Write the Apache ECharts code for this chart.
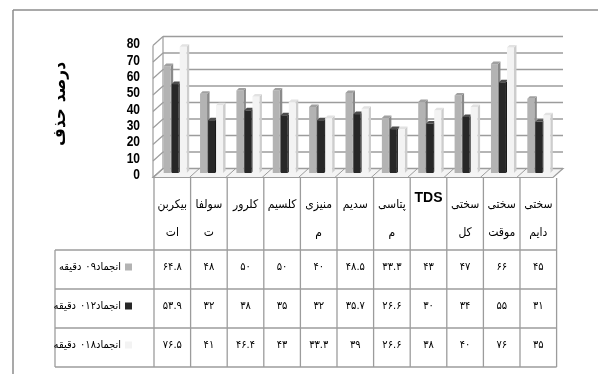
<!DOCTYPE html>
<html>
<head>
<meta charset="utf-8">
<script src="https://cdn.jsdelivr.net/npm/echarts@6/dist/echarts.min.js"></script>
<style>
  html, body { margin: 0; padding: 0; background: #fff; }
  #chart { width: 598px; height: 374px; }
</style>
</head>
<body>
<div id="chart"></div>
<script>
// Removal percentage per parameter after three freezing durations
const categories = ['بیکربنات', 'سولفات', 'کلرور', 'کلسیم', 'منیزیم', 'سدیم', 'پتاسیم', 'TDS', 'سختی کل', 'سختی موقت', 'سختی دایم'];
const headerLabels = ['بیکربن\nات', 'سولفا\nت', 'کلرور', 'کلسیم', 'منیزی\nم', 'سدیم', 'پتاسی\nم', 'TDS', 'سختی\nکل', 'سختی\nموقت', 'سختی\nدایم'];
// row captions, drawn left to right as: word, number, word
const rowWordLeft = 'دقیقه';
const rowWordRight = 'انجماد';
const rowNumbers = ['۰۹', '۰۱۲', '۰۱۸'];
const values90 = [64.8, 48, 50, 50, 40, 48.5, 33.3, 43, 47, 66, 45];
const values120 = [53.9, 32, 38, 35, 32, 35.7, 26.6, 30, 34, 55, 31];
const values180 = [76.5, 41, 46.4, 43, 33.3, 39, 26.6, 38, 40, 76, 35];
const yTicks = [0, 10, 20, 30, 40, 50, 60, 70, 80];
const yTitleWords = ['درصد', 'حذف'];

const seriesValues = [values90, values120, values180];

// bar styling: front / side / top faces
const FACE = ['#b3b3b3', '#272727', '#f3f3f3'];
const SIDE = ['#8a8a8a', '#0f0f0f', '#cdcdcd'];
const TOP = ['#a0a0a0', '#4d4d4d', '#e2e2e2'];
const BAR_OFF = [-12.5, -4.5, 3.5];
const BAR_W = 7;
const BAR_D = 2.5;
// wall depth vector (back = base + D, front = base - D)
const WDX = 5, WDY = -4.5;
const LINE = '#9c9c9c';
const FA_FONT = '11px "DejaVu Sans Condensed", "DejaVu Sans", sans-serif';

const faDigits = '۰۱۲۳۴۵۶۷۸۹';
const toFa = n => String(n).replace(/\d/g, d => faDigits[d]);

const measureCtx = document.createElement('canvas').getContext('2d');
function textWidth(str, font) { measureCtx.font = font; return measureCtx.measureText(str).width; }

function txt(text, x, y, font, align, extra) {
  return Object.assign({ type: 'text', silent: true,
    style: { text, x, y, font, fill: '#000', align, textAlign: align, verticalAlign: 'middle', textVerticalAlign: 'middle' } }, extra || {});
}

function barRenderer(s) {
  return function (params, api) {
    const i = api.value(0), v = api.value(1);
    const base = api.coord([i, 0]);
    const top = api.coord([i, v]);
    const x0 = base[0] + BAR_OFF[s];
    const x1 = x0 + BAR_W;
    const yb = base[1], yt = top[1];
    return {
      type: 'group',
      children: [
        { type: 'polygon', shape: { points: [[x1, yb], [x1 + BAR_D, yb - BAR_D], [x1 + BAR_D, yt - BAR_D], [x1, yt]] },
          style: { fill: SIDE[s] } },
        { type: 'rect', shape: { x: x0, y: yt, width: BAR_W, height: yb - yt },
          style: { fill: FACE[s] } },
        { type: 'polygon', shape: { points: [[x0, yt], [x1, yt], [x1 + BAR_D, yt - BAR_D], [x0 + BAR_D, yt - BAR_D]] },
          style: { fill: TOP[s] } }
      ]
    };
  };
}

function wallRenderer(params, api) {
  const cs = params.coordSys;
  const L = cs.x, R = cs.x + cs.width;
  const t = api.value(1);
  const y = api.coord([0, t])[1];
  const children = [
    { type: 'line', shape: { x1: L + WDX, y1: y + WDY, x2: R + WDX, y2: y + WDY }, style: { stroke: LINE, lineWidth: 1.4 } },
    { type: 'line', shape: { x1: L - WDX, y1: y - WDY, x2: L + WDX, y2: y + WDY }, style: { stroke: LINE, lineWidth: 1.2 } }
  ];
  if (params.dataIndex === 0) {
    const yTop = api.coord([0, yTicks[yTicks.length - 1]])[1];
    children.unshift({ type: 'polygon',
      shape: { points: [[L - WDX, y - WDY], [R - WDX, y - WDY], [R + WDX, y + WDY], [L + WDX, y + WDY]] },
      style: { fill: '#f4f4f4', stroke: LINE, lineWidth: 1.2 } });
    children.push({ type: 'line', shape: { x1: L - WDX, y1: yTop - WDY, x2: L - WDX, y2: y - WDY }, style: { stroke: LINE, lineWidth: 1.2 } });
    children.push({ type: 'line', shape: { x1: L + WDX, y1: yTop + WDY, x2: L + WDX, y2: y + WDY }, style: { stroke: LINE, lineWidth: 1.2 } });
    const band = cs.width / categories.length;
    for (let k = 1; k < categories.length; k++) {
      const x = L + k * band;
      children.push({ type: 'line', shape: { x1: x - WDX, y1: y - WDY, x2: x + WDX, y2: y + WDY }, style: { stroke: LINE, lineWidth: 1 } });
    }
  }
  return { type: 'group', children };
}

// data table under the plot
const TABLE_X0 = 154, COL_W = 36.6, HEAD_TOP = 178, ROW_TOPS = [250, 289, 328], ROW_H = 39, LEG_X0 = 55;
const TABLE_BOTTOM = ROW_TOPS[ROW_TOPS.length - 1] + ROW_H;
const TABLE_X1 = TABLE_X0 + COL_W * categories.length;
const graphics = [];
const tl = (x1, y1, x2, y2) => graphics.push({ type: 'line', silent: true,
  shape: { x1, y1, x2, y2 }, style: { stroke: LINE, lineWidth: 1.3 } });

// outer frame
graphics.push({ type: 'line', silent: true, shape: { x1: 13, y1: 10, x2: 13, y2: 374 }, style: { stroke: '#8c8c8c', lineWidth: 1.5 } });
graphics.push({ type: 'line', silent: true, shape: { x1: 13, y1: 10, x2: 598, y2: 10 }, style: { stroke: '#8c8c8c', lineWidth: 1.5 } });

for (let k = 0; k <= categories.length; k++) {
  const x = TABLE_X0 + k * COL_W;
  tl(x, HEAD_TOP, x, TABLE_BOTTOM);
}
ROW_TOPS.concat([TABLE_BOTTOM]).forEach(y => tl(LEG_X0, y, TABLE_X1, y));
tl(LEG_X0, ROW_TOPS[0], LEG_X0, TABLE_BOTTOM);

headerLabels.forEach((lab, k) => {
  const cx = TABLE_X0 + (k + 0.5) * COL_W;
  if (lab === 'TDS') {
    graphics.push(txt(lab, cx, 198, 'bold 14px "Liberation Sans", sans-serif', 'center'));
    return;
  }
  lab.split('\n').forEach((ln, j) => graphics.push(txt(ln, cx, 205 + j * 28, '12px "DejaVu Sans Condensed", "DejaVu Sans", sans-serif', 'center')));
});

seriesValues.forEach((vals, s) => {
  const cy = ROW_TOPS[s] + 17;
  graphics.push({ type: 'rect', silent: true, shape: { x: 125, y: cy - 3.5, width: 7, height: 7 }, style: { fill: FACE[s] } });
  // caption pieces placed right to left
  let xr = 121;
  graphics.push(txt(rowWordRight, xr, cy, FA_FONT, 'right'));
  xr -= textWidth(rowWordRight, FA_FONT);
  graphics.push(txt(rowNumbers[s], xr, cy, FA_FONT, 'right'));
  xr -= textWidth(rowNumbers[s], FA_FONT) + 4;
  graphics.push(txt(rowWordLeft, xr, cy, FA_FONT, 'right'));
  vals.forEach((v, k) => graphics.push(txt(toFa(v), TABLE_X0 + (k + 0.5) * COL_W, cy, FA_FONT, 'center')));
});

// vertical axis title, two words stacked top to bottom
const TITLE_FONT = 'bold 17px "DejaVu Sans Condensed", "DejaVu Sans", sans-serif';
let ty = 62;
yTitleWords.forEach(w => {
  const wd = textWidth(w, TITLE_FONT);
  graphics.push(txt(w, 0, 0, TITLE_FONT, 'center', { x: 61, y: ty + wd / 2, rotation: Math.PI / 2 }));
  ty += wd + 6;
});

const chart = echarts.init(document.getElementById('chart'), null, { renderer: 'canvas' });
const option = {
  animation: false,
  backgroundColor: '#fff',
  grid: [
    { left: 158, top: 41, width: 400, height: 132 },
    { left: 153, top: 44, width: 400, height: 131 }
  ],
  xAxis: [
    { type: 'category', data: categories, gridIndex: 0, show: false },
    { type: 'category', data: categories, gridIndex: 1, show: false }
  ],
  yAxis: [
    { type: 'value', min: 0, max: 80, interval: 10, gridIndex: 0, show: false },
    { type: 'value', min: 0, max: 80, interval: 10, gridIndex: 1, show: false }
  ],
  series: [
    { type: 'custom', xAxisIndex: 0, yAxisIndex: 0, renderItem: wallRenderer, clip: false, silent: true, z: 1,
      data: yTicks.map(t => [0, t]) }
  ].concat(seriesValues.map((vals, s) => ({
    type: 'custom', xAxisIndex: 0, yAxisIndex: 0, renderItem: barRenderer(s), clip: false, z: 2 + s,
    encode: { x: 0, y: 1 },
    data: vals.map((v, i) => [i, v])
  })))
};
chart.setOption(option);

// narrow bold tick labels placed on the front value axis
const TICK_FONT = 'bold 15px "Liberation Sans", sans-serif';
yTicks.forEach(t => {
  const py = chart.convertToPixel({ yAxisIndex: 1 }, t);
  graphics.push(txt(String(t), 0, 0, TICK_FONT, 'right', { x: 140, y: py, scaleX: 0.8 }));
});
chart.setOption({ graphic: graphics });
</script>
</body>
</html>
